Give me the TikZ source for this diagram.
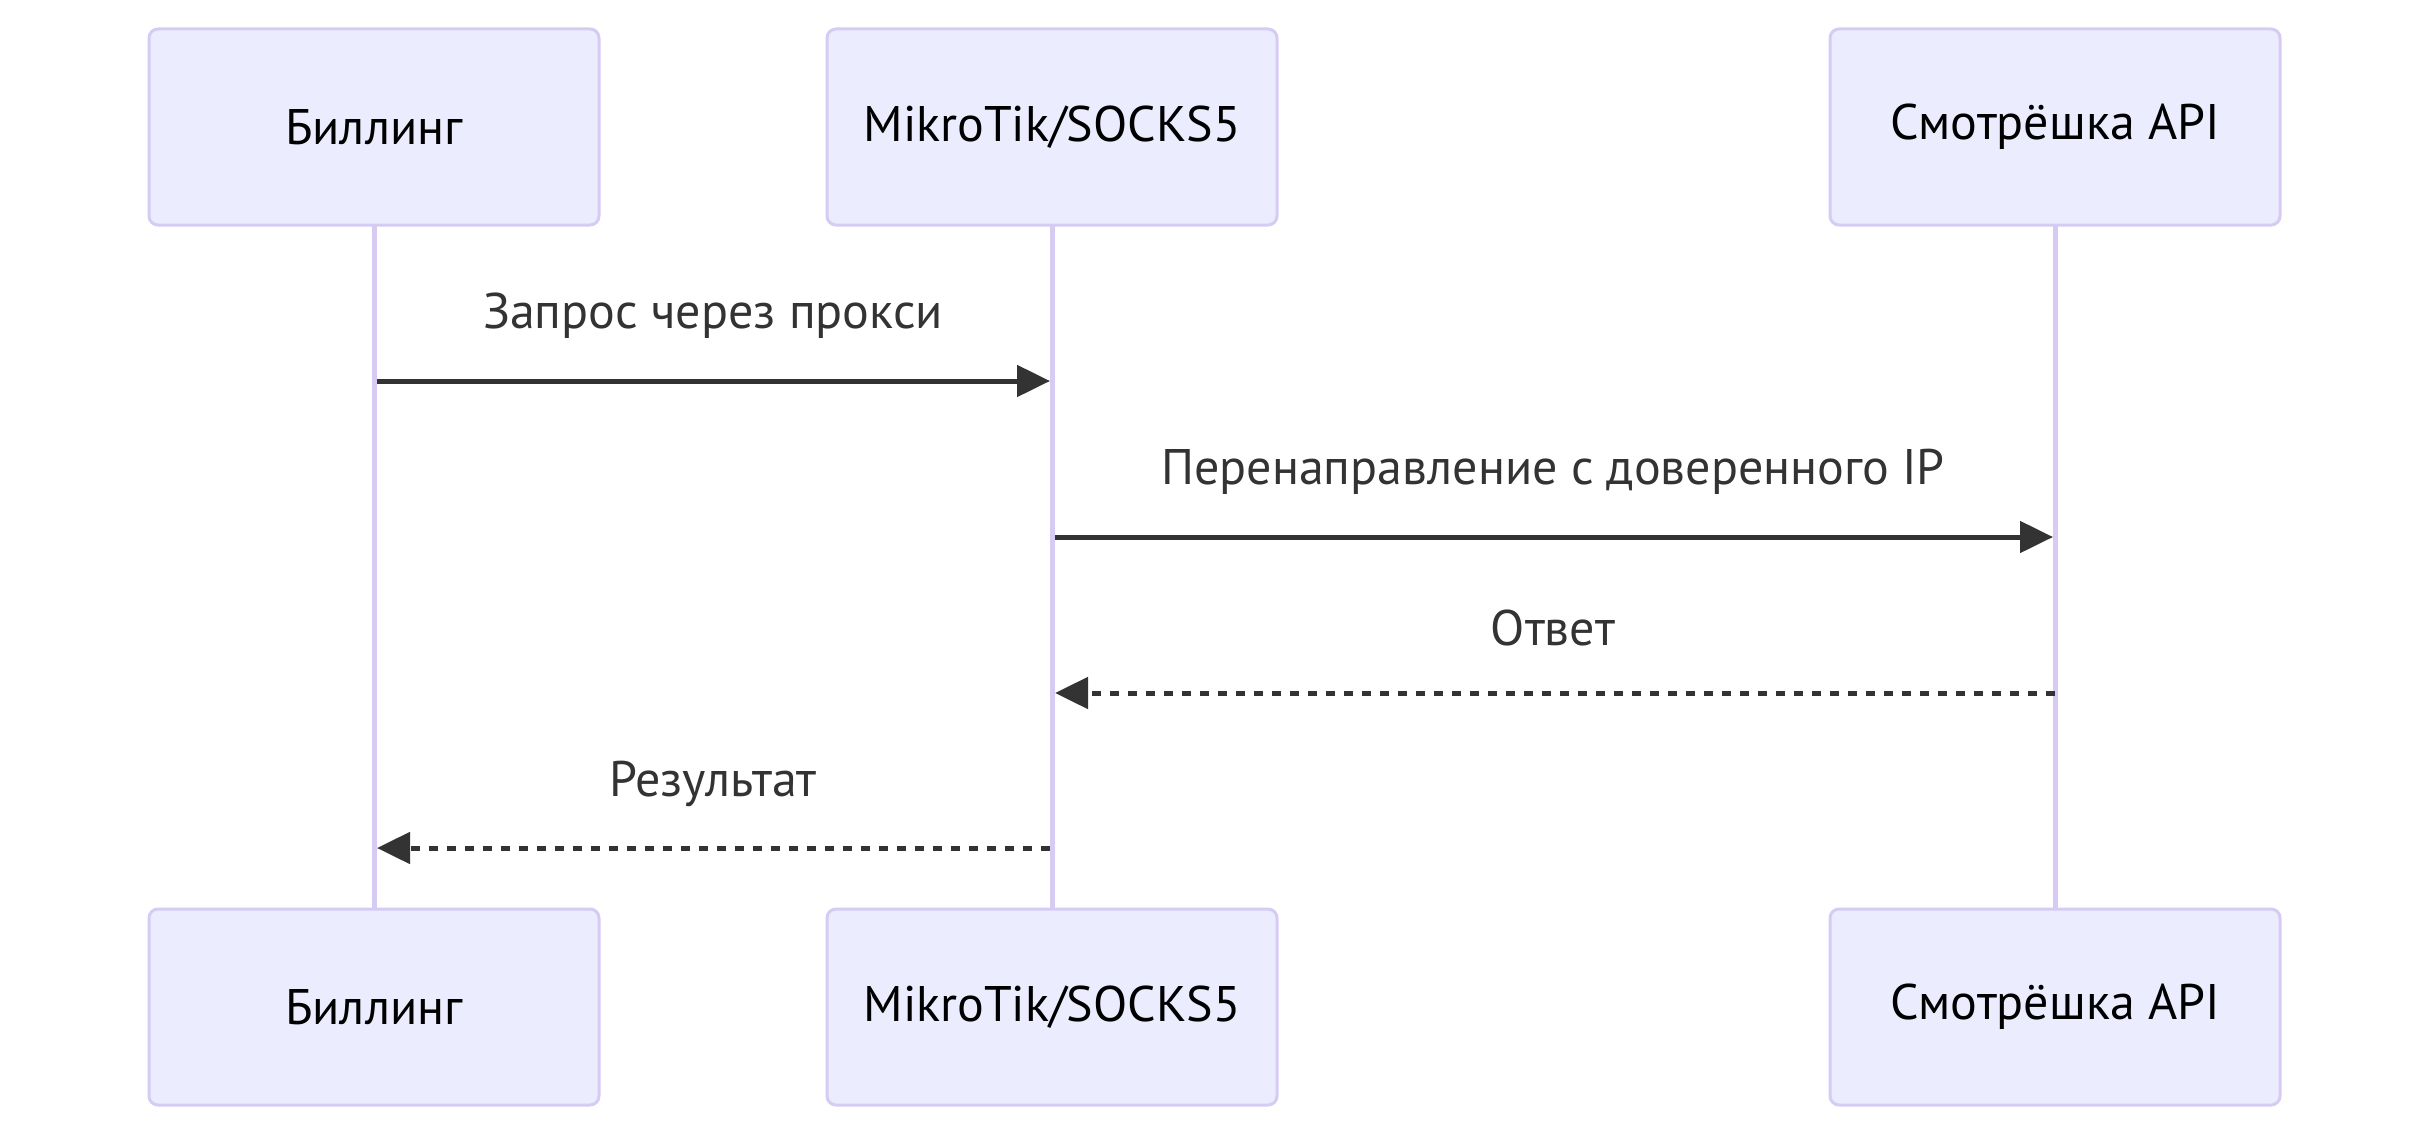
\documentclass[tikz,border=0pt]{standalone}
\usepackage{fontspec}
\setmainfont{PT Sans}
\usetikzlibrary{arrows.meta}
\definecolor{actfill}{HTML}{ECECFF}
\definecolor{actline}{HTML}{D6CCF3}
\definecolor{msg}{HTML}{333333}
\tikzset{
  actor/.style={draw=actline, line width=3pt, fill=actfill, rounded corners=9pt,
    minimum width=450pt, minimum height=196pt, inner sep=0pt,
    font=\fontsize{50}{60}\selectfont, text=black},
  lifeline/.style={draw=actline, line width=5pt},
  msgline/.style={draw=msg, line width=5pt, -{Triangle[length=33pt,width=31pt]}},
  msgdash/.style={msgline, dash pattern=on 9pt off 9pt},
  msglabel/.style={font=\fontsize{50}{60}\selectfont, text=msg, inner sep=0pt}
}
\begin{document}
\begin{tikzpicture}[x=1pt,y=-1pt]
\useasboundingbox (0,0) rectangle (2430,1137);
\fill[white] (0,0) rectangle (2430,1137);
% lifelines
\coordinate (l1t) at (374,225); \coordinate (l1b) at (374,910);
\coordinate (l2t) at (1052,225); \coordinate (l2b) at (1052,910);
\coordinate (l3t) at (2055,225); \coordinate (l3b) at (2055,910);
\draw[lifeline] (l1t) -- (l1b);
\draw[lifeline] (l2t) -- (l2b);
\draw[lifeline] (l3t) -- (l3b);
% actors
\node[actor] (a1) at (374,127) {Биллинг};
\node[actor] (a2) at (1052,127) {MikroTik/SOCKS5};
\node[actor] (a3) at (2055,127) {Смотрёшка API};
\node[actor] (b1) at (374,1007) {Биллинг};
\node[actor] (b2) at (1052,1007) {MikroTik/SOCKS5};
\node[actor] (b3) at (2055,1007) {Смотрёшка API};
% messages
\coordinate (m1s) at (377,381); \coordinate (m1e) at (1050,381);
\coordinate (m2s) at (1055,537); \coordinate (m2e) at (2053,537);
\coordinate (m3s) at (2055,693); \coordinate (m3e) at (1055,693);
\coordinate (m4s) at (1050,848); \coordinate (m4e) at (377,848);
\draw[msgline] (m1s) -- (m1e);
\draw[msgline] (m2s) -- (m2e);
\draw[msgdash] (m3s) -- (m3e);
\draw[msgdash] (m4s) -- (m4e);
\node[msglabel] (t1) at (713,316) {Запрос через прокси};
\node[msglabel] (t2) at (1553,472) {Перенаправление с доверенного IP};
\node[msglabel] (t3) at (1553,628) {Ответ};
\node[msglabel] (t4) at (713,784) {Результат};
\end{tikzpicture}
\end{document}
